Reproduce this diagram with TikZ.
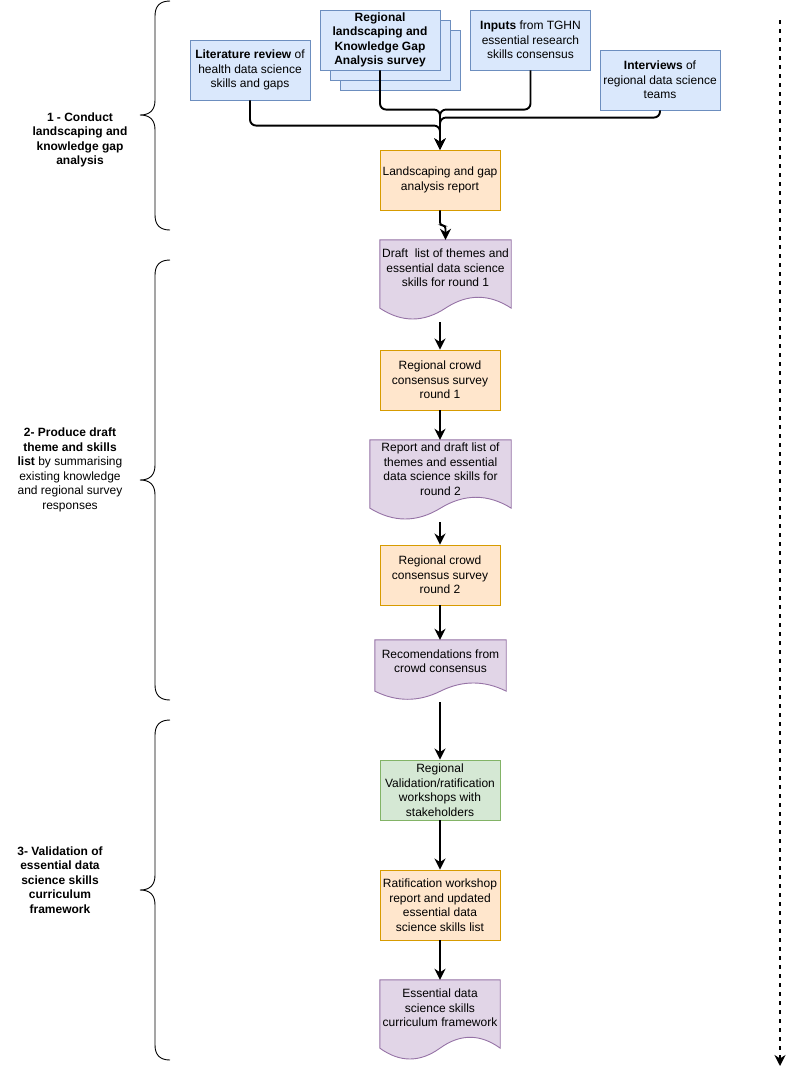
\documentclass[tikz,border=0pt]{standalone}
\usepackage{fontspec}
\setmainfont{Liberation Sans}
\usetikzlibrary{arrows.meta,calc,backgrounds}
\definecolor{bluef}{HTML}{DAE8FC}\definecolor{blued}{HTML}{6C8EBF}
\definecolor{orangef}{HTML}{FFE6CC}\definecolor{oranged}{HTML}{D79B00}
\definecolor{greenf}{HTML}{D5E8D4}\definecolor{greend}{HTML}{82B366}
\definecolor{purplef}{HTML}{E1D5E7}\definecolor{purpled}{HTML}{9673A6}
\newcommand\fs{\fontsize{12}{14.5}\selectfont}
\tikzset{
 box/.style={rectangle, minimum width=120pt, minimum height=60pt, inner sep=0pt, align=center, line width=0.9pt, font=\fs},
 bluebox/.style={box, fill=bluef, draw=blued},
 orangebox/.style={box, fill=orangef, draw=oranged},
 greenbox/.style={box, fill=greenf, draw=greend},
 docshape/.style={rectangle, draw=none, fill=none, inner sep=0pt},
 docst/.style={fill=purplef, draw=purpled, line width=0.9pt},
 doctext/.style={align=center, font=\fs, inner sep=0pt},
 tip/.style={-{Stealth[length=11pt,width=11pt,inset=3.5pt]}},
 arr/.style={line width=1.9pt, tip, rounded corners=6pt},
 bracestyle/.style={line width=0.9pt},
 lbl/.style={align=center, font=\fs, inner sep=0pt},
}
\newcommand\docpath[1]{%
 \begin{pgfonlayer}{background}
 \path[docst] let \p1=(#1.north west), \p2=(#1.south east), \n1={\x2-\x1}, \n2={\y1-\y2} in
  (\x1,\y1) -- (\x2,\y1) -- (\x2,{\y2+0.15*\n2})
  .. controls ({\x2-\n1/6},{\y2+0.33*\n2}) and ({(\x1+\x2)/2+\n1/6},{\y2+0.33*\n2}) .. ({(\x1+\x2)/2},{\y2+0.15*\n2})
  .. controls ({(\x1+\x2)/2-\n1/6},{\y2-0.03*\n2}) and ({\x1+\n1/6},{\y2-0.03*\n2}) .. (\x1,{\y2+0.15*\n2}) -- cycle;
 \end{pgfonlayer}}
\newcommand\curly[4]{%
 \draw[bracestyle] (#1+15,#2) .. controls (#1+5,#2) and (#1,#2+5) .. (#1,#2+15) -- (#1,#3-15)
  .. controls (#1,#3-5) and (#1-5,#3) .. (#1-15,#3)
  .. controls (#1-5,#3) and (#1,#3+5) .. (#1,#3+15) -- (#1,#4-15)
  .. controls (#1,#4-5) and (#1+5,#4) .. (#1+15,#4);}
\begin{document}
\begin{tikzpicture}[x=1pt,y=-1pt]
\useasboundingbox (0,0) rectangle (790,1074);
% top inputs
\node[bluebox] (lit) at (250,70) {\textbf{Literature review} of\\health data science\\skills and gaps};
\node[bluebox] (sv3) at (400,60) {};
\node[bluebox] (sv2) at (390,50) {};
\node[bluebox] (sv) at (380,40) {\textbf{Regional}\\\textbf{landscaping and}\\\textbf{Knowledge Gap}\\\textbf{Analysis survey}};
\node[bluebox] (inp) at (530.5,40) {\textbf{Inputs} from TGHN\\essential research\\skills consensus};
\node[bluebox] (iv) at (660,80) {\textbf{Interviews} of\\regional data science\\teams};
% main flow
\node[orangebox] (lr) at (440,180) {Landscaping and gap\\analysis report};
\node[docshape, minimum width=131pt, minimum height=80pt] (d1) at (445.5,280) {};
\docpath{d1}
\node[doctext] (d1t) at (445.5,268) {Draft~ list of themes and\\essential data science\\skills for round 1};
\node[orangebox] (r1) at (440,380) {Regional crowd\\consensus survey\\round 1};
\node[docshape, minimum width=141pt, minimum height=80pt] (d2) at (440.5,480) {};
\docpath{d2}
\node[doctext] (d2t) at (440.5,469) {Report and draft list of\\themes and essential\\data science skills for\\round 2};
\node[orangebox] (r2) at (440,575) {Regional crowd\\consensus survey\\round 2};
\node[docshape, minimum width=131pt, minimum height=60pt] (d3) at (440.5,670) {};
\docpath{d3}
\node[doctext] (d3t) at (440.5,661) {Recomendations from\\crowd consensus};
\node[greenbox] (val) at (440,790) {Regional\\Validation/ratification\\workshops with\\stakeholders};
\node[orangebox, minimum height=70pt] (rat) at (440,905) {Ratification workshop\\report and updated\\essential data\\science skills list};
\node[docshape, minimum width=120pt, minimum height=80pt] (d4) at (440,1020) {};
\docpath{d4}
\node[doctext] (d4t) at (440,1008) {Essential data\\science skills\\curriculum framework};
% connectors
\draw[arr] (lit.south) |- ($(lr.north)+(0,-24)$) -- (lr.north);
\draw[arr] (sv.south) |- ($(lr.north)+(0,-40)$) -- (lr.north);
\draw[arr] (inp.south) |- ($(lr.north)+(0,-40)$) -- (lr.north);
\draw[arr] (iv.south) |- ($(lr.north)+(0,-32)$) -- (lr.north);
\draw[arr, rounded corners=3pt] (lr.south) -- ++(0,15) -| (d1.north);
\draw[arr] ($(r1.north |- d1.south)+(0,2)$) -- (r1.north);
\draw[arr] (r1.south) -- (r1.south |- d2.north);
\draw[arr] ($(r2.north |- d2.south)+(0,2)$) -- (r2.north);
\draw[arr] (r2.south) -- (r2.south |- d3.north);
\draw[arr] ($(val.north |- d3.south)+(0,2)$) -- (val.north);
\draw[arr] (val.south) -- (rat.north);
\draw[arr] (rat.south) -- (d4.north);
% braces and labels
\curly{155}{1}{115}{230}
\curly{155}{260}{480}{700}
\curly{155}{720}{890}{1060}
\node[lbl, font=\fs\bfseries] (l1) at (80,140) {1 - Conduct\\landscaping and\\knowledge gap\\analysis};
\node[lbl] (l2) at (70,470) {\textbf{2- Produce draft}\\\textbf{theme and skills}\\\textbf{list} by summarising\\existing knowledge\\and regional survey\\responses};
\node[lbl, font=\fs\bfseries] (l3) at (60,880) {3- Validation of\\essential data\\science skills\\curriculum\\framework};
% timeline
\coordinate (ts) at (780,20);
\coordinate (te) at (780,1066);
\draw[line width=1.9pt, dash pattern=on 4pt off 5pt, tip] (ts) -- (te);
\end{tikzpicture}
\end{document}
